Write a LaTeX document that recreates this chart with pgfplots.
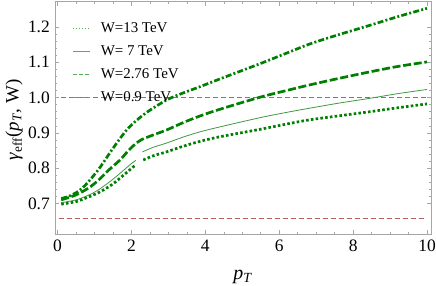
\documentclass[border=0pt]{standalone}
\usepackage{pgfplots}
\pgfplotsset{compat=1.18}
\usepackage{fontspec}
\setmainfont{Liberation Serif}
\definecolor{dg}{rgb}{0,0.5,0}
\definecolor{lg}{rgb}{0.25,0.6,0.25}
\definecolor{llg}{rgb}{0.35,0.68,0.35}
\definecolor{rl}{rgb}{0.72,0.38,0.38}
\begin{document}
\begin{tikzpicture}
\begin{axis}[
  scale only axis, width=376bp, height=232.5bp,
  xmin=-0.068, xmax=10.108, ymin=0.6133, ymax=1.2723,
  axis line style={gray!70, line width=0.6bp},
  tick style={gray!70, line width=0.5bp},
  tick align=inside,
  major tick length=4bp, minor tick length=2.2bp,
  xtick={0,2,4,6,8,10}, ytick={0.7,0.8,0.9,1.0,1.1,1.2},
  minor x tick num=3, minor y tick num=4,
  /pgf/number format/assume math mode=true,
  yticklabel style={/pgf/number format/fixed, /pgf/number format/precision=1, /pgf/number format/fixed zerofill, font=\fontsize{17.5}{17.5}\selectfont, inner sep=0pt, xshift=-5bp},
  xticklabel style={font=\fontsize{17.5}{17.5}\selectfont, inner sep=0pt, yshift=-6bp},
  every axis y label/.style={at={(rel axis cs:-0.109,0.49)}, rotate=90, anchor=center, font=\fontsize{19}{19}\selectfont},
  every axis x label/.style={at={(rel axis cs:0.5,0)}, anchor=base, yshift=-45bp, font=\fontsize{20}{20}\selectfont},
  ylabel={\textit{γ}\textsubscript{eff}(\textit{p}\textsubscript{\textit{T}}, W)},
  xlabel={\textit{p}\textsubscript{\textit{T}}},
  legend cell align=left,
  legend style={draw=none, fill=none, at={(rel axis cs:0.048,0.91)}, anchor=north west, inner sep=0pt, outer sep=0pt,
    font=\fontsize{15}{15}\selectfont, nodes={inner sep=0pt, text height=10bp, text depth=2.5bp}, row sep=10.4bp},
  legend image code/.code={\draw[#1] (0bp,0bp) -- (17bp,0bp); \path (27bp,0bp);},
]
\addlegendimage{llg, line width=0.7bp, dash pattern=on 1bp off 2bp}
\addlegendentry{W=13 TeV}
\addlegendimage{llg, line width=0.7bp}
\addlegendentry{W= 7 TeV}
\addlegendimage{llg, line width=0.7bp, dash pattern=on 4bp off 2bp}
\addlegendentry{W=2.76 TeV}
\addlegendimage{llg, line width=0.7bp, dash pattern=on 4bp off 2bp on 1bp off 2bp}
\addlegendentry{W=0.9 TeV}

\addplot[rl, line width=0.6bp, dash pattern=on 5bp off 3bp, forget plot] coordinates {(0.1,1.0)(10,1.0)};
\addplot[rl, line width=0.6bp, dash pattern=on 5bp off 3bp, forget plot] coordinates {(0.05,0.658)(10,0.658)};

% top: dash-dot
\addplot[dg, line width=2.7bp, dash pattern=on 6bp off 2.2bp on 2bp off 2.2bp, smooth, forget plot] coordinates {
(0.1,0.714)(0.3,0.720)(0.56,0.734)(0.8,0.757)(1.1,0.795)(1.3,0.825)(1.5,0.856)(1.83,0.903)(2.05,0.927)(2.4,0.957)(2.95,0.993)(3.4,1.013)(3.86,1.031)(4.4,1.053)(5.48,1.096)(6.2,1.126)(6.83,1.152)(7.6,1.178)(8.46,1.205)(9.2,1.229)(10,1.253)};
% second: dashed
\addplot[dg, line width=2.7bp, dash pattern=on 8bp off 2.7bp, smooth, forget plot] coordinates {
(0.1,0.710)(0.5,0.724)(0.83,0.743)(1.1,0.765)(1.37,0.793)(1.69,0.823)(1.92,0.850)(2.1,0.868)(2.28,0.881)(2.59,0.894)(2.95,0.908)(3.4,0.929)(3.86,0.948)(4.4,0.967)(5.48,1.001)(6.2,1.020)(6.83,1.036)(7.6,1.054)(8.46,1.073)(9.2,1.088)(10,1.101)};
% thin solid, two pieces
\addplot[lg, line width=0.8bp, smooth, forget plot] coordinates {
(0.1,0.702)(0.5,0.710)(0.83,0.723)(1.1,0.738)(1.47,0.766)(1.8,0.795)(2.0,0.813)(2.12,0.822)};
\addplot[lg, line width=0.8bp, smooth, forget plot] coordinates {
(2.3,0.846)(2.59,0.859)(2.95,0.871)(3.4,0.888)(3.86,0.903)(4.4,0.917)(5.48,0.943)(6.2,0.958)(6.83,0.970)(7.6,0.984)(8.46,0.998)(9.2,1.011)(10,1.023)};
% bottom dotted, two pieces
\addplot[dg, line width=2.7bp, dash pattern=on 2.6bp off 2.2bp, smooth, forget plot] coordinates {
(0.1,0.698)(0.5,0.705)(0.83,0.718)(1.1,0.730)(1.47,0.753)(1.83,0.784)(2.1,0.808)};
\addplot[dg, line width=2.7bp, dash pattern=on 2.6bp off 2.2bp, smooth, forget plot] coordinates {
(2.32,0.823)(2.59,0.835)(2.95,0.846)(3.4,0.862)(3.86,0.876)(4.4,0.889)(5.48,0.910)(6.2,0.925)(6.83,0.937)(7.6,0.948)(8.46,0.960)(9.2,0.971)(10,0.982)};
\end{axis}
\pgfresetboundingbox
\path (current axis.south west) ++(-55bp,-52bp) rectangle ++(436bp,286bp);
\end{tikzpicture}
\end{document}
